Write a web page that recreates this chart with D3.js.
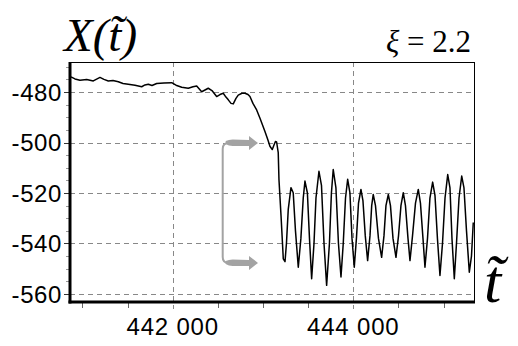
<!DOCTYPE html>
<html><head><meta charset="utf-8">
<script src="https://cdn.jsdelivr.net/npm/d3@7/dist/d3.min.js"></script>
<style>body{margin:0;background:#fff}</style>
</head><body><svg id="c" width="518" height="346"></svg>
<script>
// ---- data ----
const tVals = [440874,440918,440973,441048,441121,441195,441239,441287,441339,441398,441450,441508,441583,441657,441693,441730,441771,441823,441904,441989,442037,442100,442173,442225,442266,442321,442358,442394,442435,442487,442524,442560,442590,442616,442646,442671,442701,442726,442767,442801,442834,442856,442889,442930,442967,443022,443055,443077,443103,443122,443138,443151,443169,443177,443200,443225,443244,443260,443280,443310,443335,443360,443391,443420,443446,443465,443492,443515,443539,443565,443587,443620,443648,443676,443705,443736,443758,443778,443808,443836,443864,443889,443914,443938,443963,443986,444011,444035,444058,444085,444107,444133,444159,444185,444204,444221,444246,444279,444314,444340,444362,444388,444412,444440,444473,444501,444528,444554,444578,444606,444628,444656,444689,444720,444744,444772,444794,444822,444849,444879,444905,444932,444960,444988,445016,445046,445071,445093,445119,445143,445171,445201,445226,445254,445285,445309,445329];
const xVals = [-474.0,-474.8,-475.3,-475.0,-475.6,-474.2,-475.0,-475.6,-475.4,-475.9,-476.6,-476.9,-477.3,-477.9,-477.2,-476.9,-477.4,-476.6,-476.4,-476.3,-477.3,-478.1,-478.5,-477.9,-477.6,-479.9,-479.2,-478.5,-479.4,-481.8,-481.0,-480.5,-482.0,-483.1,-484.5,-484.7,-482.5,-481.2,-480.5,-480.5,-481.0,-481.8,-484.5,-487.1,-490.4,-495.6,-499.0,-501.5,-502.8,-501.0,-499.6,-499.8,-504.0,-514.6,-529.0,-546.1,-547.2,-540,-526.5,-517.9,-519.9,-535,-549.4,-538,-522,-515.3,-520,-538,-554.0,-540,-522,-511.4,-517,-540,-556.6,-540,-520,-510.7,-518,-540,-553.3,-540,-522,-514.6,-520,-538,-549.4,-538,-524,-518.6,-523,-537,-546.8,-537,-525,-520.6,-525,-538,-545.5,-537,-525,-520.6,-525,-538,-545.5,-537,-525,-519.9,-525,-538,-546.8,-537,-524,-518.6,-524,-538,-549.4,-538,-522,-515.7,-521,-538,-552.7,-540,-522,-512.7,-518,-538,-554.0,-540,-522,-513.3,-518,-535,-551.4,-545,-531.7];
const yTicks = [-480,-500,-520,-540,-560];
const xTicks = [442000,444000];
const xTickLabels = ["442 000","444 000"];
const xMinor = [441000,441500,442000,442500,443000,443500,444000,444500,445000];
// annotation arrows (t position of bracket, tip, and the two levels)
const arrowT = [442554, 442945];
const arrowLevels = [-500.2, -547.7];

// ---- layout ----
const L=70, R=474, T=62, B=302;
const svg = d3.select("#c");
const xs = d3.scaleLinear().domain([440863,445337]).range([L,R]);
const ys = d3.scaleLinear().domain([-563.2,-468.1]).range([B,T]);

// grid
const grid = svg.append("g").attr("stroke","#888").attr("stroke-width",1).attr("stroke-dasharray","5,4");
grid.selectAll(".gy").data(yTicks).join("line")
  .attr("x1",L).attr("x2",R).attr("y1",d=>Math.round(ys(d))+0.5).attr("y2",d=>Math.round(ys(d))+0.5);
grid.selectAll(".gx").data(xTicks).join("line")
  .attr("y1",T).attr("y2",B+7).attr("x1",d=>Math.round(xs(d))+0.5).attr("x2",d=>Math.round(xs(d))+0.5);

// minor ticks
const yMinor = d3.range(-560,-465,5);
svg.append("g").selectAll("line").data(yMinor).join("line")
  .attr("x1",d=>yTicks.includes(d)?L-6:L-4).attr("x2",L)
  .attr("y1",d=>Math.round(ys(d))+0.5).attr("y2",d=>Math.round(ys(d))+0.5)
  .attr("stroke",d=>yTicks.includes(d)?"#333":"#999").attr("stroke-width",1);
svg.append("g").selectAll("line").data(xMinor.filter(d=>!xTicks.includes(d))).join("line")
  .attr("x1",d=>Math.round(xs(d))+0.5).attr("x2",d=>Math.round(xs(d))+0.5).attr("y1",B).attr("y2",B+6)
  .attr("stroke","#666").attr("stroke-width",1);

// frame
svg.append("rect").attr("x",L+0.5).attr("y",T+0.5).attr("width",R-L).attr("height",B-T)
  .attr("fill","none").attr("stroke","#000").attr("stroke-width",1);
svg.append("line").attr("x1",L).attr("x2",L).attr("y1",T).attr("y2",B+1.5).attr("stroke","#000").attr("stroke-width",3);
svg.append("line").attr("x1",L-1.5).attr("x2",R+1).attr("y1",B).attr("y2",B).attr("stroke","#000").attr("stroke-width",3);

// data line
const data = tVals.map((t,i)=>[t,xVals[i]]);
svg.append("path").datum(data)
  .attr("d",d3.line().x(d=>xs(d[0])).y(d=>ys(d[1])))
  .attr("fill","none").attr("stroke","#000").attr("stroke-width",1.5).attr("stroke-linejoin","round");

// arrows
const ax = xs(arrowT[0]), tip = xs(arrowT[1]);
const yT = ys(arrowLevels[0]), yB = ys(arrowLevels[1]);
const gray = "#a3a3a3";
svg.append("path").attr("d",`M${ax},${yT+6} L${ax},${yB-6} Q${ax},${yB} ${ax+6},${yB}`)
  .attr("fill","none").attr("stroke",gray).attr("stroke-width",2);
svg.append("path").attr("d",`M${ax},${yT+6} Q${ax},${yT} ${ax+6},${yT}`)
  .attr("fill","none").attr("stroke",gray).attr("stroke-width",2);
[yT,yB].forEach(y=>{
  svg.append("path").attr("d",
    `M${ax+3},${y-2} Q${ax+6},${y-3.5} ${ax+10},${y-3.5} L${tip-9},${y-3} L${tip-9},${y-7} L${tip},${y} L${tip-9},${y+7} L${tip-9},${y+3} L${ax+10},${y+3} Q${ax+6},${y+3} ${ax+3},${y+1} Z`)
    .attr("fill",gray);
});

// tick labels
const sans = "'Liberation Sans', Arial, sans-serif";
svg.append("g").selectAll("text").data(yTicks).join("text")
  .attr("x",L-8).attr("y",d=>ys(d)).attr("dy","0.36em").attr("text-anchor","end")
  .style("font-family",sans).attr("font-size",24).attr("letter-spacing",0.6)
  .text(d=>String(d));
svg.append("g").selectAll("text").data(xTicks).join("text")
  .attr("x",d=>xs(d)).attr("y",335).attr("text-anchor","middle")
  .style("font-family",sans).attr("font-size",24).attr("letter-spacing",0.8)
  .text((d,i)=>xTickLabels[i]);

// titles
const serif = "'Liberation Serif', 'Times New Roman', serif";
svg.append("text").attr("x",64).attr("y",51).style("font-family",serif).attr("font-style","italic").attr("font-size",47)
  .text("X(t\u0303)");

const xi = svg.append("text").attr("x",471).attr("y",52).attr("text-anchor","end").style("font-family",serif).attr("font-size",31);
xi.append("tspan").attr("font-style","italic").text("ξ");
xi.append("tspan").text(" = 2.2");

svg.append("text").attr("x",484).attr("y",302).style("font-family",serif).attr("font-style","italic").attr("font-size",62)
  .text("t\u0303");
</script></body></html>
